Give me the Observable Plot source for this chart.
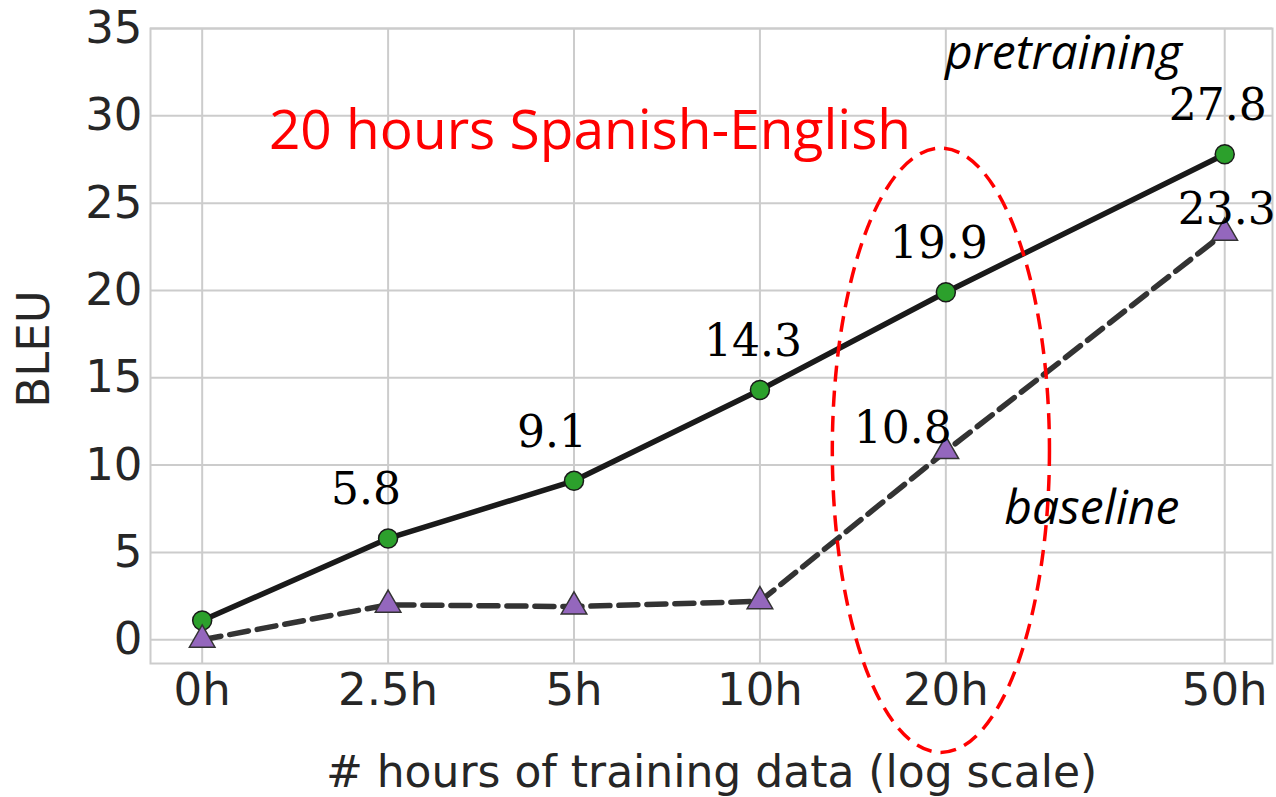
<!DOCTYPE html>
<html><head><meta charset="utf-8">
<script src="https://cdn.jsdelivr.net/npm/d3@7"></script>
<script src="https://cdn.jsdelivr.net/npm/@observablehq/plot@0.6"></script>
<style>body{margin:0;background:#fff} svg{display:block}</style>
</head><body><div id="chart"></div>
<script>
// ---- data ----
const hours = ["0h", "2.5h", "5h", "10h", "20h", "50h"];
const xPos = [0, 1, 2, 3, 4, 5.5];
const pretraining = [1.1, 5.8, 9.1, 14.3, 19.9, 27.8];
const baseline = [0.0, 2.0, 1.9, 2.2, 10.8, 23.3];
const yTicks = [0, 5, 10, 15, 20, 25, 30, 35];
const xTitle = "# hours of training data (log scale)";
const yTitle = "BLEU";
const highlight = "20 hours Spanish-English";

const rows = hours.map((h, i) => ({h, x: xPos[i], pre: pretraining[i], base: baseline[i]}));
const fmt = d => d.toFixed(1);
const tickLabel = d => hours[xPos.indexOf(d)];

// dashed ellipse around the 20h column (annotation)
const focus = {x: 3.976, y: 10.82, rx: 0.584, ry: 17.3};
const ellipseMark = (index, scales) => {
  const e = document.createElementNS("http://www.w3.org/2000/svg", "ellipse");
  const cx = scales.x(focus.x), cy = scales.y(focus.y);
  e.setAttribute("cx", cx);
  e.setAttribute("cy", cy);
  e.setAttribute("rx", Math.abs(scales.x(focus.x + focus.rx) - cx));
  e.setAttribute("ry", Math.abs(scales.y(focus.y + focus.ry) - cy));
  e.setAttribute("fill", "none");
  e.setAttribute("stroke", "#ff0000");
  e.setAttribute("stroke-width", 3.5);
  e.setAttribute("stroke-dasharray", "16,9");
  return e;
};

const chart = Plot.plot({
  width: 1276,
  height: 797,
  marginLeft: 150,
  marginRight: 4,
  marginTop: 28,
  marginBottom: 134,
  style: {fontFamily: "DejaVu Sans", fontSize: "45px", color: "#262626", background: "white"},
  x: {type: "linear", domain: [-0.278, 5.757]},
  y: {domain: [-1.36, 35]},
  marks: [
    Plot.gridX(xPos, {stroke: "#cccccc", strokeOpacity: 1, strokeWidth: 2}),
    Plot.gridY(yTicks, {stroke: "#cccccc", strokeOpacity: 1, strokeWidth: 2}),
    Plot.frame({stroke: "#cccccc", strokeWidth: 2}),
    Plot.axisX(xPos, {tickSize: 0, tickPadding: 10, tickFormat: tickLabel, label: null, fontSize: 45}),
    Plot.axisY(yTicks, {tickSize: 0, tickPadding: 8, label: null, fontSize: 45}),
    Plot.text([xTitle], {frameAnchor: "bottom", textAnchor: "middle", lineAnchor: "bottom", dy: 123, fontSize: 44, fill: "#262626"}),
    Plot.text([yTitle], {frameAnchor: "left", textAnchor: "middle", lineAnchor: "bottom", rotate: -90, dx: -102, dy: 3, fontSize: 45, fill: "#262626"}),
    Plot.line(rows, {x: "x", y: "base", stroke: "#333333", strokeWidth: 5.5, strokeDasharray: "19,9"}),
    Plot.line(rows, {x: "x", y: "pre", stroke: "#1a1a1a", strokeWidth: 5.5}),
    Plot.dot(rows, {x: "x", y: "pre", r: 9.5, fill: "#2ca02c", stroke: "#1a1a1a", strokeWidth: 1.5}),
    Plot.dot(rows, {x: "x", y: "base", symbol: "triangle", r: 9.5, fill: "#9467bd", stroke: "#333333", strokeWidth: 1.5}),
    ellipseMark,
    Plot.text(rows.slice(1, 3), {x: "x", y: "pre", text: d => fmt(d.pre), lineAnchor: "bottom", dx: -22, dy: -34, fontFamily: "DejaVu Serif", fontSize: 44, fill: "#000"}),
    Plot.text(rows.slice(3), {x: "x", y: "pre", text: d => fmt(d.pre), lineAnchor: "bottom", dx: -7, dy: -34, fontFamily: "DejaVu Serif", fontSize: 44, fill: "#000"}),
    Plot.text(rows.slice(4, 5), {x: "x", y: "base", text: d => fmt(d.base), lineAnchor: "bottom", dx: -43, dy: -8, fontFamily: "DejaVu Serif", fontSize: 44, fill: "#000"}),
    Plot.text(rows.slice(5), {x: "x", y: "base", text: d => fmt(d.base), lineAnchor: "bottom", dx: 2, dy: -9, fontFamily: "DejaVu Serif", fontSize: 44, fill: "#000"}),
    Plot.text([highlight], {x: 2.086, y: 28.12, lineAnchor: "bottom", fontFamily: "Open Sans", fontSize: 55, fill: "#ff0000"}),
    Plot.text(["pretraining"], {x: 4.633, y: 32.7, lineAnchor: "bottom", fontFamily: "Open Sans", fontStyle: "italic", fontSize: 48, fill: "#000"}),
    Plot.text(["baseline"], {x: 4.785, y: 6.64, lineAnchor: "bottom", fontFamily: "Open Sans", fontStyle: "italic", fontSize: 48, fill: "#000"})
  ]
});
document.getElementById("chart").append(chart);
</script>
</body></html>
